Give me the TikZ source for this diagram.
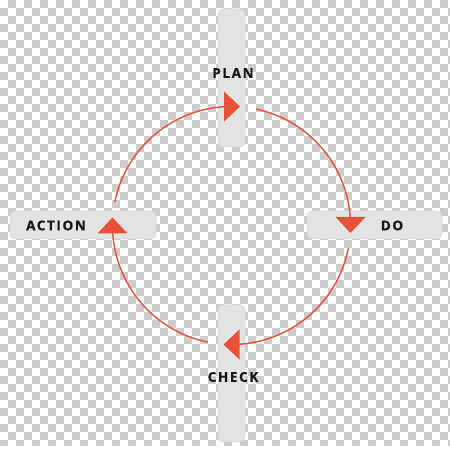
\documentclass[tikz,border=0pt]{standalone}
\usepackage{fontspec}
\newfontfamily\lblfont{Open Sans}[LetterSpace=12, BoldFeatures={FakeBold=0.8}]
\definecolor{barfill}{HTML}{E3E3E3}
\definecolor{baredge}{HTML}{D6D6D6}
\definecolor{arcred}{HTML}{E8503A}
\definecolor{txt}{HTML}{1A1718}
\definecolor{chk}{HTML}{CCCCCC}
\tikzset{
  barbox/.style={draw=baredge, line width=0.5pt, fill=barfill, rounded corners=5pt, inner sep=0pt},
  lbl/.style={font=\lblfont\bfseries\fontsize{13.5}{13.5}\selectfont, text=txt, inner sep=0pt},
  cyc/.style={draw=arcred, line width=1.4pt},
  tri/.style={fill=arcred},
}
\begin{document}
\begin{tikzpicture}[x=1pt,y=1pt]
\useasboundingbox (0,0) rectangle (450,469);
\fill[white] (0,0) rectangle (450,469);
% checkerboard (transparency)
\begin{scope}
\clip (0,23) rectangle (450,469);
\foreach \r in {0,...,55}{
  \foreach \c in {0,...,56}{
    \pgfmathtruncatemacro{\myparity}{mod(\r+\c,2)}
    \ifnum\myparity=1 \fill[chk] (8*\c,461-8*\r) rectangle ++(8,8); \fi
  }
}
\end{scope}
% bars
\node[barbox, minimum width=27, minimum height=138] (planbar) at (231.5,391) {};
\node[barbox, minimum width=27, minimum height=137] (checkbar) at (231.5,95.5) {};
\node[barbox, minimum width=146, minimum height=28] (actbar) at (83,244) {};
\node[barbox, minimum width=135, minimum height=28] (dobar) at (374.5,244) {};
% labels
\node[lbl] (plan) at (233,396) {PLAN};
\node[lbl] (action) at (56,243.5) {ACTION};
\node[lbl] (do) at (392,243.5) {DO};
\node[lbl] (check) at (233,92) {CHECK};
% cycle arcs
\coordinate (c) at (231.5,243.5);
\draw[cyc] ([shift={(78:119)}]c) arc[start angle=78, end angle=2, radius=119];
\draw[cyc] ([shift={(-11:119)}]c) arc[start angle=-11, end angle=-88, radius=119];
\draw[cyc] ([shift={(-101.5:119)}]c) arc[start angle=-101.5, end angle=-178, radius=119];
\draw[cyc] ([shift={(168.5:119)}]c) arc[start angle=168.5, end angle=92, radius=119];
% arrowheads
\fill[tri] (240,362.5) -- (224,377.5) -- (224,347.5) -- cycle;
\fill[tri] (350.5,236) -- (335.5,252) -- (365.5,252) -- cycle;
\fill[tri] (223.5,124.5) -- (239.5,139.5) -- (239.5,109.5) -- cycle;
\fill[tri] (112.5,251.5) -- (97.5,235.5) -- (127.5,235.5) -- cycle;
\end{tikzpicture}
\end{document}
